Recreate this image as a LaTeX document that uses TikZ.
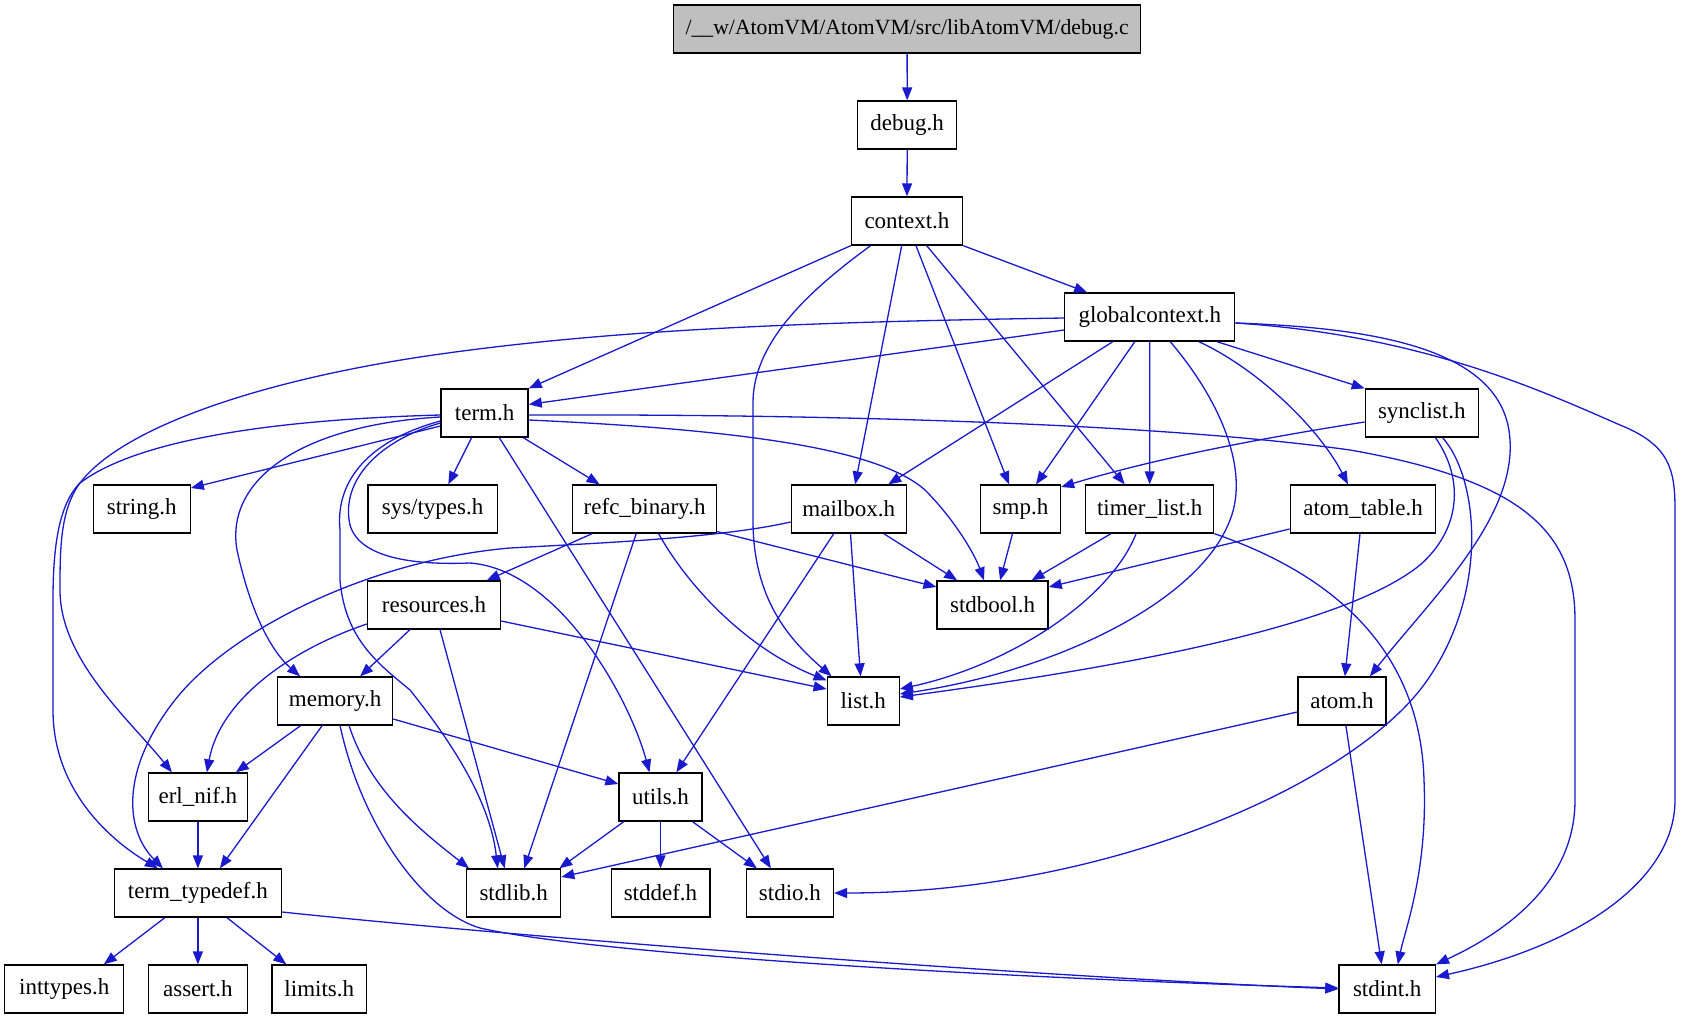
\documentclass[tikz,border=0pt]{standalone}
\usepackage{fontspec}
\setmainfont{Liberation Serif}
\usetikzlibrary{arrows.meta,calc}
\definecolor{edgeblue}{RGB}{25,25,205}
\definecolor{rootfill}{RGB}{191,191,191}
\begin{document}
\begin{tikzpicture}[x=1pt,y=-1pt,
  hbox/.style={draw=black, line width=1.3pt, minimum height=48pt, inner sep=0pt, fill=white, font=\fontsize{23}{27}\selectfont},
  dep/.style={draw=edgeblue, line width=1.3pt, -{Triangle[length=13pt,width=10pt]}}]
\fill[white] (0,0) rectangle (1682,1019);
\useasboundingbox (0,0) rectangle (1682,1019);
% nodes
\node[hbox, fill=rootfill, minimum width=467pt, font=\fontsize{21.7}{26}\selectfont] (root) at (907.1,29) {/\_\_w/AtomVM/AtomVM/src/libAtomVM/debug.c};
\node[hbox, minimum width=99pt] (debug) at (907.2,125) {debug.h};
\node[hbox, minimum width=111pt] (context) at (907,221) {context.h};
\node[hbox, minimum width=170pt] (gc) at (1149.8,317) {globalcontext.h};
\node[hbox, minimum width=87pt] (term) at (484.6,413) {term.h};
\node[hbox, minimum width=113pt] (synclist) at (1421.8,413) {synclist.h};
\node[hbox, minimum width=97pt] (string) at (141.7,509) {string.h};
\node[hbox, minimum width=129.5pt] (systypes) at (432.6,509) {sys/types.h};
\node[hbox, minimum width=144pt] (refc) at (644.6,509) {refc\_binary.h};
\node[hbox, minimum width=115pt] (mailbox) at (848.8,509) {mailbox.h};
\node[hbox, minimum width=80pt] (smp) at (1020.5,509) {smp.h};
\node[hbox, minimum width=128pt] (timer) at (1149.7,509) {timer\_list.h};
\node[hbox, minimum width=145.5pt] (atomtable) at (1363,509) {atom\_table.h};
\node[hbox, minimum width=133pt] (resources) at (434,605) {resources.h};
\node[hbox, minimum width=111pt] (stdbool) at (992.6,605) {stdbool.h};
\node[hbox, minimum width=115pt] (memory) at (335.1,701) {memory.h};
\node[hbox, minimum width=72pt] (list) at (863.2,701) {list.h};
\node[hbox, minimum width=88pt] (atom) at (1341.9,701) {atom.h};
\node[hbox, minimum width=98.7pt] (erlnif) at (197.9,797) {erl\_nif.h};
\node[hbox, minimum width=83pt] (utils) at (660.5,797) {utils.h};
\node[hbox, minimum width=166.7pt] (termtypedef) at (197.9,893) {term\_typedef.h};
\node[hbox, minimum width=94pt] (stdlib) at (513.7,893) {stdlib.h};
\node[hbox, minimum width=98.7pt] (stddef) at (660.5,893) {stddef.h};
\node[hbox, minimum width=87pt] (stdio) at (789.9,893) {stdio.h};
\node[hbox, minimum width=119pt] (inttypes) at (64.2,989) {inttypes.h};
\node[hbox, minimum width=98.7pt] (assert) at (197.9,989) {assert.h};
\node[hbox, minimum width=94.8pt] (limits) at (319.3,989) {limits.h};
\node[hbox, minimum width=96.4pt] (stdint) at (1387.2,989) {stdint.h};
% root, debug, context
\draw[dep] (root.south) -- (debug.north);
\draw[dep] (debug.south) -- (context.north);
\draw[dep] (context.south east) -- ($(gc.north west)+(23,0)$);
\draw[dep] (context.south west) -- (term.north east);
\draw[dep] ($(context.south)+(-36.4,0)$) .. controls (810,290) and (755,340) .. (753,400) -- (753,520) .. controls (753,600) and (790,640) .. ($(list.north west)+(5,0)$);
\draw[dep] ($(context.south)+(-5.3,0)$) -- ($(mailbox.north)+(6.4,0)$);
\draw[dep] ($(context.south)+(9,0)$) -- ($(smp.north)+(-11.5,0)$);
\draw[dep] ($(context.south)+(19.7,0)$) -- ($(timer.north)+(-25,0)$);
% globalcontext
\draw[dep] ($(gc.west)+(0,13)$) -- ($(term.east)+(0,-8.6)$);
\draw[dep] ($(gc.west)+(0,1)$) .. controls (800,322) and (600,330) .. (420,357) .. controls (250,383) and (120,430) .. (80,483) .. controls (60,510) and (60,550) .. (60,590) .. controls (60,660) and (130,720) .. ($(erlnif.north)+(-26,0)$);
\draw[dep] ($(gc.south)+(-37,0)$) -- ($(mailbox.north)+(39.5,0)$);
\draw[dep] ($(gc.south)+(-15,0)$) -- ($(smp.north)+(15.5,0)$);
\draw[dep] (gc.south) -- (timer.north);
\draw[dep] ($(gc.south)+(20.4,0)$) .. controls (1220,400) and (1250,470) .. (1230,520) .. controls (1200,600) and (1060,670) .. ($(list.east)+(0,-7)$);
\draw[dep] ($(gc.south)+(49,0)$) .. controls (1260,370) and (1320,430) .. ($(atomtable.north)+(-15,0)$);
\draw[dep] ($(gc.south)+(67,0)$) -- (synclist.north west);
\draw[dep] ($(gc.east)+(0,6)$) .. controls (1380,328) and (1505,350) .. (1510,440) .. controls (1515,520) and (1430,600) .. ($(atom.north)+(28,0)$);
\draw[dep] ($(gc.east)+(0,6)$) .. controls (1420,335) and (1540,390) .. (1620,425) .. controls (1670,445) and (1675,470) .. (1675,510) -- (1675,800) .. controls (1675,880) and (1580,945) .. ($(stdint.east)+(0,-12)$);
% term
\draw[dep] ($(term.west)+(0,2)$) .. controls (330,418) and (150,430) .. (80,483) .. controls (58,505) and (53,550) .. (53,600) -- (53,710) .. controls (53,790) and (110,840) .. ($(termtypedef.north)+(-40,0)$);
\draw[dep] ($(term.west)+(0,13)$) -- ($(string.east)+(0,-21)$);
\draw[dep] ($(term.south)+(-13,0)$) -- ($(systypes.north)+(15.7,0)$);
\draw[dep] ($(term.south)+(38.7,0)$) -- ($(refc.north)+(-45,0)$);
\draw[dep] ($(term.south)+(14.7,0)$) -- ($(stdio.north)+(-19,0)$);
\draw[dep] ($(term.east)+(0,2)$) .. controls (800,414) and (1150,422) .. (1350,450) .. controls (1520,480) and (1575,530) .. (1575,620) -- (1575,800) .. controls (1575,880) and (1510,930) .. (stdint.north east);
\draw[dep] ($(term.east)+(0,7)$) .. controls (750,430) and (880,450) .. (925,490) .. controls (955,520) and (975,555) .. ($(stdbool.north)+(-8.6,0)$);
\draw[dep] ($(term.west)+(0,4)$) .. controls (300,425) and (225,480) .. (237,550) .. controls (250,610) and (270,650) .. ($(memory.north)+(-35,0)$);
\draw[dep] ($(term.west)+(0,10)$) .. controls (380,440) and (340,480) .. (350,525) .. controls (360,560) and (420,565) .. (470,563) .. controls (560,570) and (630,700) .. ($(utils.north)+(-11,0)$);
\draw[dep] ($(term.west)+(0,8)$) .. controls (370,440) and (335,480) .. (340,530) -- (340,580) .. controls (345,640) and (380,665) .. (410,690) .. controls (450,740) and (490,800) .. ($(stdlib.north)+(-16,0)$);
% refc_binary
\draw[dep] ($(refc.south)+(-52.4,0)$) -- ($(resources.north)+(52.7,0)$);
\draw[dep] ($(refc.south)+(-8.4,0)$) -- ($(stdlib.north)+(10.5,0)$);
\draw[dep] ($(refc.south)+(14,0)$) .. controls (690,590) and (750,650) .. ($(list.north west)+(0,4)$);
\draw[dep] ($(refc.south east)+(0,-2)$) -- ($(stdbool.west)+(0,-18)$);
% mailbox
\draw[dep] ($(mailbox.south)+(35,0)$) -- ($(stdbool.north)+(-35.4,0)$);
\draw[dep] ($(mailbox.south)+(1.7,0)$) -- ($(list.north)+(-2.7,0)$);
\draw[dep] ($(mailbox.south)+(-15,0)$) -- ($(utils.north)+(15.8,0)$);
\draw[dep] ($(mailbox.west)+(0,13)$) .. controls (720,538) and (600,543) .. (510,548) .. controls (370,560) and (230,630) .. (175,700) .. controls (120,770) and (125,830) .. ($(termtypedef.north)+(-35,0)$);
% smp
\draw[dep] ($(smp.south)+(-8,0)$) -- ($(stdbool.north)+(7.5,0)$);
% timer_list
\draw[dep] ($(timer.south)+(-38.7,0)$) -- ($(stdbool.north)+(39,0)$);
\draw[dep] ($(timer.south)+(-13.6,0)$) .. controls (1110,600) and (1010,665) .. ($(list.east)+(0,-12)$);
\draw[dep] (timer.south east) .. controls (1320,570) and (1420,640) .. (1424,780) .. controls (1428,870) and (1405,930) .. ($(stdint.north)+(10.6,0)$);
% synclist
\draw[dep] ($(synclist.west)+(0,9)$) .. controls (1250,440) and (1150,460) .. ($(smp.east)+(0,-22)$);
\draw[dep] ($(synclist.south)+(13.6,0)$) .. controls (1465,480) and (1460,530) .. (1420,565) .. controls (1340,630) and (1100,670) .. ($(list.east)+(0,-4)$);
\draw[dep] ($(synclist.south)+(20.8,0)$) .. controls (1480,480) and (1490,600) .. (1420,690) .. controls (1340,790) and (1100,893) .. (stdio.east);
% atom_table
\draw[dep] ($(atomtable.south)+(-3,0)$) -- ($(atom.north)+(3,0)$);
\draw[dep] ($(atomtable.west)+(0,20)$) -- ($(stdbool.east)+(0,-18)$);
% resources
\draw[dep] ($(resources.south)+(-24,0)$) -- ($(memory.north)+(25,0)$);
\draw[dep] ($(resources.west)+(0,19)$) .. controls (290,650) and (220,700) .. ($(erlnif.north)+(9,0)$);
\draw[dep] ($(resources.south)+(6,0)$) -- ($(stdlib.north)+(-9,0)$);
\draw[dep] ($(resources.east)+(0,16)$) -- ($(list.west)+(0,-12)$);
% memory
\draw[dep] ($(memory.south)+(-34.5,0)$) -- ($(erlnif.north)+(38,0)$);
\draw[dep] ($(memory.south)+(-13,0)$) -- ($(termtypedef.north)+(22,0)$);
\draw[dep] ($(memory.south)+(14,0)$) .. controls (370,790) and (420,830) .. ($(stdlib.north west)+(3,0)$);
\draw[dep] ($(memory.south)+(5,0)$) .. controls (360,820) and (420,910) .. (480,928) .. controls (600,955) and (1000,978) .. ($(stdint.west)+(0,-1)$);
\draw[dep] ($(memory.east)+(0,18)$) -- ($(utils.west)+(0,-13)$);
% erl_nif
\draw[dep] (erlnif.south) -- (termtypedef.north);
% utils
\draw[dep] ($(utils.south west)+(5.4,0)$) -- ($(stdlib.north east)+(-2,0)$);
\draw[dep] (utils.south) -- (stddef.north);
\draw[dep] ($(utils.south)+(32,0)$) -- ($(stdio.north)+(-33,0)$);
% atom
\draw[dep] ($(atom.west)+(0,11)$) -- ($(stdlib.east)+(0,-16)$);
\draw[dep] ($(atom.south)+(4,0)$) -- ($(stdint.north)+(-5.6,0)$);
% term_typedef
\draw[dep] ($(termtypedef.south)+(-33,0)$) -- ($(inttypes.north)+(39.6,0)$);
\draw[dep] (termtypedef.south) -- (assert.north);
\draw[dep] ($(termtypedef.south)+(29,0)$) -- ($(limits.north)+(-33,0)$);
\draw[dep] ($(termtypedef.east)+(0,19)$) .. controls (500,935) and (1000,975) .. (stdint.west);
\end{tikzpicture}
\end{document}
